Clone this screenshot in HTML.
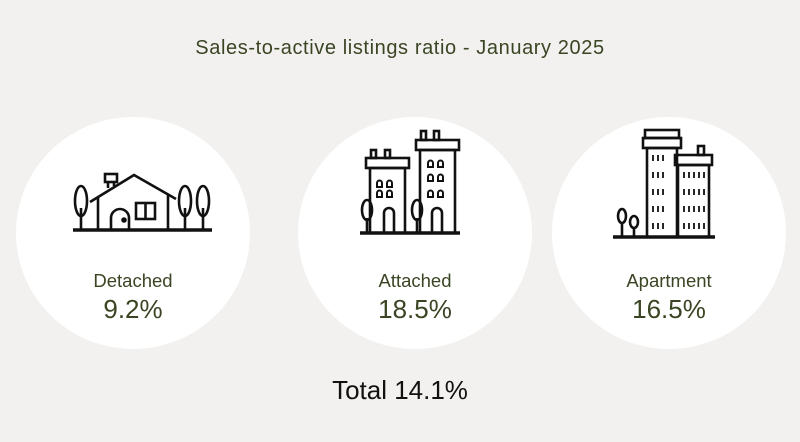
<!DOCTYPE html>
<html><head><style>
body{margin:0;width:800px;height:442px;background:#f2f1ef;font-family:"Liberation Sans",sans-serif;position:relative;overflow:hidden}
.t{position:absolute;width:100%;text-align:center}
.c{position:absolute;width:234px;height:232px;border-radius:50%;background:#fff;top:117px}
.lab{position:absolute;width:100%;text-align:center;color:#3a4523;font-size:18.5px}
.val{position:absolute;width:100%;text-align:center;color:#3a4523;font-size:26px}
</style></head><body>
<div class="t" style="top:37px;font-size:20px;letter-spacing:0.6px;color:#3a4523">Sales-to-active listings ratio - January 2025</div>
<div class="c" style="left:16px"><div class="lab" style="top:153px">Detached</div><div class="val" style="top:177px">9.2%</div></div>
<div class="c" style="left:298px"><div class="lab" style="top:153px">Attached</div><div class="val" style="top:177px">18.5%</div></div>
<div class="c" style="left:552px"><div class="lab" style="top:153px">Apartment</div><div class="val" style="top:177px">16.5%</div></div>
<div class="t" style="top:375px;font-size:26px;color:#111">Total 14.1%</div>
<svg width="800" height="442" style="position:absolute;left:0;top:0" fill="none" stroke="#111" stroke-width="2.6">
<line x1="73" y1="230" x2="212" y2="230" stroke-width="3.5"/>
<path d="M90 202 L134 175 L176 199"/>
<path d="M98 197 V230 M168 195 V230"/>
<rect x="105" y="174" width="12" height="8"/><path d="M108 182 V188 M114 182 V186"/>
<path d="M111 230 V218 a9 9 0 0 1 18 0 V230"/><circle cx="124" cy="220" r="1.5" fill="#111"/>
<rect x="136" y="203" width="19" height="16"/><line x1="145.5" y1="203" x2="145.5" y2="219"/>
<ellipse cx="81" cy="201" rx="6" ry="15"/><line x1="81" y1="208" x2="81" y2="230"/>
<ellipse cx="185" cy="201" rx="6" ry="15"/><line x1="185" y1="208" x2="185" y2="230"/>
<ellipse cx="203" cy="201" rx="6" ry="15"/><line x1="203" y1="208" x2="203" y2="230"/>
<line x1="360" y1="233" x2="460" y2="233" stroke-width="3.5"/>
<rect x="366" y="158" width="43" height="10"/><rect x="370" y="168" width="35" height="65"/>
<rect x="371" y="150" width="5" height="8"/><rect x="385" y="150" width="5" height="8"/>
<rect x="416" y="140" width="43" height="10"/><rect x="420" y="150" width="35" height="83"/>
<rect x="421" y="131" width="5" height="9"/><rect x="434" y="131" width="5" height="9"/>
<g stroke-width="2"><path d="M377 187v-4a2.5 2.5 0 0 1 5 0v4z M387 187v-4a2.5 2.5 0 0 1 5 0v4z M377 197v-4a2.5 2.5 0 0 1 5 0v4z M387 197v-4a2.5 2.5 0 0 1 5 0v4z M428 167v-4a2.5 2.5 0 0 1 5 0v4z M438 167v-4a2.5 2.5 0 0 1 5 0v4z M428 181v-4a2.5 2.5 0 0 1 5 0v4z M438 181v-4a2.5 2.5 0 0 1 5 0v4z M428 197v-4a2.5 2.5 0 0 1 5 0v4z M438 197v-4a2.5 2.5 0 0 1 5 0v4z"/></g>
<path d="M384 233v-20a5 5 0 0 1 10 0v20 M432 233v-20a5 5 0 0 1 10 0v20"/>
<ellipse cx="367" cy="210" rx="5" ry="10"/><line x1="367" y1="218" x2="367" y2="233"/>
<ellipse cx="417" cy="210" rx="5" ry="10"/><line x1="417" y1="218" x2="417" y2="233"/>
<line x1="613" y1="237" x2="715" y2="237" stroke-width="3.5"/>
<rect x="645" y="130" width="34" height="8"/><rect x="643" y="138" width="38" height="10"/>
<rect x="647" y="148" width="30" height="89"/>
<rect x="675" y="155" width="37" height="10"/><rect x="678" y="165" width="31" height="72"/><rect x="698" y="146" width="6" height="9"/>
<g stroke-width="1.8"><path d="M653 155v6M658 155v6M663 155v6M653 172v6M658 172v6M663 172v6M653 189v6M658 189v6M663 189v6M653 206v6M658 206v6M663 206v6M653 223v6M658 223v6M663 223v6 M684 172v6M689 172v6M694 172v6M699 172v6M704 172v6M684 189v6M689 189v6M694 189v6M699 189v6M704 189v6M684 206v6M689 206v6M694 206v6M699 206v6M704 206v6M684 223v6M689 223v6M694 223v6M699 223v6M704 223v6"/></g>
<ellipse cx="622" cy="216" rx="4" ry="7"/><line x1="622" y1="222" x2="622" y2="237"/>
<ellipse cx="634" cy="222" rx="4" ry="6"/><line x1="634" y1="228" x2="634" y2="237"/>
</svg>
</body></html>
